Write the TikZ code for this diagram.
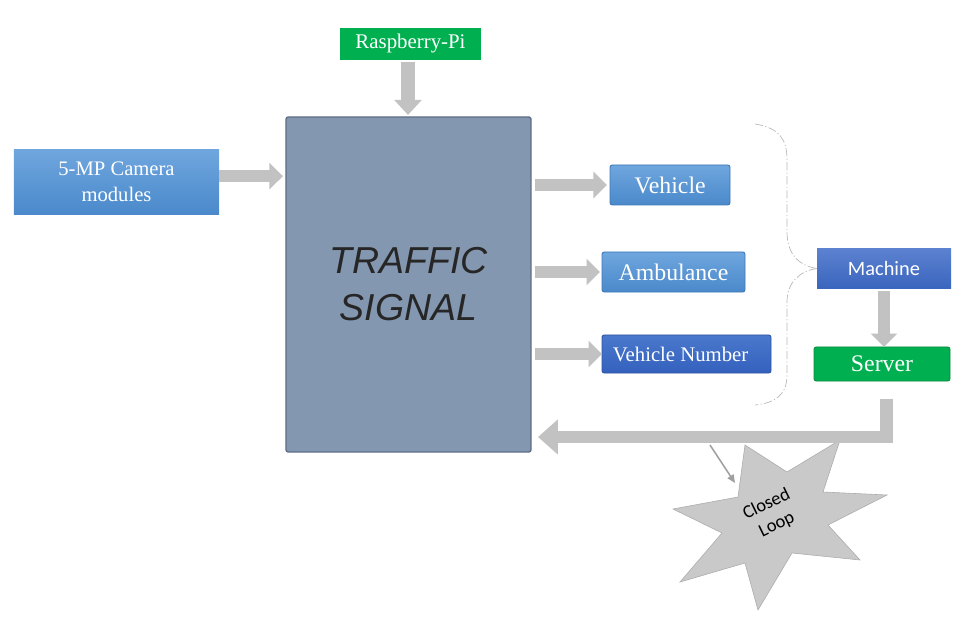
\documentclass[tikz,border=0pt]{standalone}
\usepackage{fontspec}
\setmainfont{Liberation Serif}
\newfontfamily\calibrifont{Carlito}
\newfontfamily\signalfont{Liberation Sans}
\usepackage{tikz}
\usetikzlibrary{arrows.meta}

\definecolor{pigreen}{HTML}{00B050}
\definecolor{greenedge}{HTML}{0A8A3F}
\definecolor{signalfill}{HTML}{8497B0}
\definecolor{signaledge}{HTML}{5E6E86}
\definecolor{bluetop}{HTML}{6FA6DE}
\definecolor{bluebot}{HTML}{4A89CB}
\definecolor{blueedge}{HTML}{3F77B5}
\definecolor{darktop}{HTML}{4A78CC}
\definecolor{darkbot}{HTML}{3461BD}
\definecolor{darkedge}{HTML}{2F55A0}
\definecolor{machtop}{HTML}{5B81D0}
\definecolor{machbot}{HTML}{3B66BE}
\definecolor{arrowgray}{HTML}{C2C2C2}
\definecolor{stargray}{HTML}{C9C9C9}

\begin{document}
\begin{tikzpicture}[
                x=0.03cm, y=-0.03cm,
                >=Latex,
                box/.style={rectangle, inner sep=0pt, outer sep=0pt, align=center, text=white},
                greenbox/.style={box, fill=pigreen, font=\fontsize{17.8}{21}\selectfont},
                serverbox/.style={box, fill=pigreen, draw=greenedge, line width=0.8pt, rounded corners=2pt, font=\fontsize{20.3}{24}\selectfont},
                bluebox/.style={box, draw=blueedge, line width=0.8pt, rounded corners=2pt, top color=bluetop, bottom color=bluebot, font=\fontsize{20.3}{24}\selectfont},
                darkbox/.style={box, draw=darkedge, line width=0.8pt, rounded corners=2pt, top color=darktop, bottom color=darkbot, font=\fontsize{17.7}{21}\selectfont},
                signalbox/.style={box, fill=signalfill, draw=signaledge, line width=1.2pt, rounded corners=2pt, text=black!85, font=\signalfont\itshape\fontsize{32}{40}\selectfont},
                looptext/.style={rotate=26, inner sep=0pt, font=\calibrifont\fontsize{15.8}{19}\selectfont},
                blockarrow/.style={draw=arrowgray, line width=10.2pt, -{Triangle[width=22pt,length=11.5pt]}},
                thinarrow/.style={draw=gray!75, line width=1.3pt, -{Triangle[width=6pt,length=7pt]}},
                bracket/.style={draw=gray!55, line width=0.6pt, dash pattern=on 7pt off 2pt on 1pt off 2pt}
            ]
            \useasboundingbox (0,0) rectangle (967,621);

            % Nodes
            \node[greenbox, minimum width=4.23cm, minimum height=0.96cm] (rpi) at (410.5,44) {Raspberry-Pi};
            \node[signalbox, minimum width=7.35cm, minimum height=10.05cm] (signal) at (408.5,284.5) {TRAFFIC\\SIGNAL};
            \node[box, top color=bluetop, bottom color=bluebot, minimum width=6.15cm, minimum height=1.92cm, font=\fontsize{17.6}{22}\selectfont] (cam) at (116.5,182) {5-MP Camera\\modules};
            \node[bluebox, minimum width=3.6cm, minimum height=1.2cm] (veh) at (670,185) {Vehicle};
            \node[bluebox, minimum width=4.29cm, minimum height=1.2cm] (amb) at (673.5,272) {Ambulance};
            \node[darkbox, minimum width=5.07cm, minimum height=1.14cm] (vnum) at (686.5,354) {\hspace*{-10pt}Vehicle Number};
            \node[box, top color=machtop, bottom color=machbot, minimum width=4.02cm, minimum height=1.17cm, font=\calibrifont\fontsize{17.4}{21}\selectfont] (mach) at (884,268.5) {Machine};
            \node[serverbox, minimum width=4.08cm, minimum height=1.02cm] (srv) at (882,364) {Server};

            % Closed loop star
            \draw[fill=stargray, draw=gray!65, line width=0.5pt] (745,445) -- (787,472) -- (840,440) -- (823,492) -- (887,495) -- (828,525) -- (860,560) -- (792,553) -- (758,610) -- (745,563) -- (680,582) -- (722,533) -- (673,509) -- (738,497) -- cycle;
            \node[looptext] (closed) at (766,503) {Closed};
            \node[looptext] (loopword) at (777,525) {Loop};
            \coordinate (hintstart) at (710,445);
            \coordinate (hintend) at (735,483);
            \coordinate (ret) at (538,437);

            % Bracket
            \draw[bracket] (755,124) .. controls (780,128) and (787,140) .. (787,160) -- (787,232) .. controls (787,255) and (800,266) .. (mach.west);
            \draw[bracket] (mach.west) .. controls (800,271) and (787,282) .. (787,302) -- (787,375) .. controls (787,395) and (775,403) .. (755,405);

            % Edges
            \draw[blockarrow, line width=11.5pt, -{Triangle[width=23pt,length=13pt]}, shorten <=1.7pt, shorten >=1.7pt] (rpi.south -| 408,0) -- (signal.north -| 408,0);
            \draw[blockarrow, shorten >=2.6pt] ([yshift=5pt]cam.east) -- ([yshift=5pt]cam.east -| signal.west);
            \draw[blockarrow, line width=9.4pt, shorten <=3.4pt, shorten >=2.6pt] (signal.east |- veh) -- (veh);
            \draw[blockarrow, line width=9.4pt, shorten <=3.4pt, shorten >=1.7pt] (signal.east |- amb) -- (amb);
            \draw[blockarrow, line width=9.4pt, shorten <=3.4pt, shorten >=0pt] (signal.east |- vnum) -- (vnum);
            \draw[blockarrow, shorten <=2.6pt] (mach.south) -- (mach.south |- srv.north);
            \draw[blockarrow, line width=11pt, -{Triangle[width=29pt,length=17pt]}, shorten <=15pt] ([xshift=4pt]srv.south) |- (ret);
            \draw[thinarrow] (hintstart) -- (hintend);
\end{tikzpicture}
\end{document}
